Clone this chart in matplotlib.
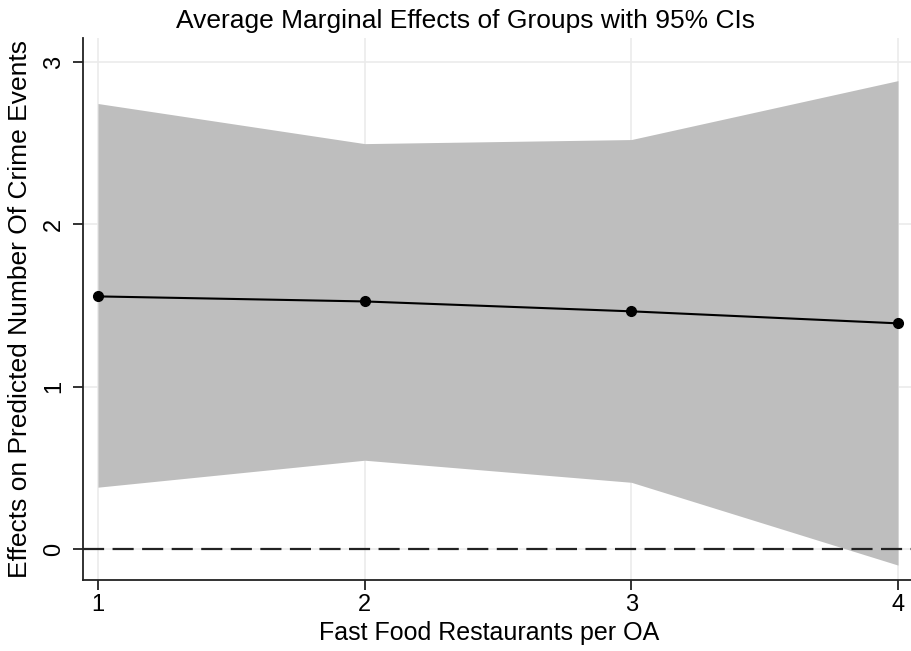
import matplotlib.pyplot as plt

groups = [1, 2, 3, 4]
effects = [1.557, 1.526, 1.465, 1.391]
ci_low = [0.382, 0.548, 0.412, -0.098]
ci_high = [2.745, 2.498, 2.523, 2.886]
yticks = [0, 1, 2, 3]

plt.rcParams["font.family"] = ["Liberation Sans", "DejaVu Sans"]

fig = plt.figure(figsize=(9.12, 6.51), dpi=100)
ax = fig.add_axes([0.091, 0.109, 0.909, 0.8325])

ax.fill_between(groups, ci_low, ci_high, color="#bebebe", linewidth=0, zorder=2)
ax.plot(groups, effects, color="black", linewidth=1.5, marker="o", markersize=7, zorder=4)
ax.axhline(0, color="#222222", linewidth=1.6, dashes=(9.5, 3.8), zorder=3)

ax.set_xlim(0.944, 4.0525)
ax.set_ylim(-0.19, 3.148)
ax.set_xticks(groups)
ax.set_yticks(yticks)
ax.set_xticklabels([str(g) for g in groups], fontsize=17)
ax.set_yticklabels([str(t) for t in yticks], fontsize=17, rotation=90, va="center")
ax.grid(True, color="#ebebeb", linewidth=1.2, zorder=0)
ax.set_axisbelow(True)

for side in ["top", "right"]:
    ax.spines[side].set_visible(False)
for side in ["left", "bottom"]:
    ax.spines[side].set_linewidth(1.3)
    ax.spines[side].set_color("#222222")
ax.tick_params(axis="both", direction="out", length=7, width=1.3, color="#222222")
ax.tick_params(axis="x", pad=3)
ax.tick_params(axis="y", pad=6)

ax.set_xlabel("Fast Food Restaurants per OA", fontsize=18)
ax.xaxis.set_label_coords(0.49, -0.075)
ax.set_ylabel("Effects on Predicted Number Of Crime Events", fontsize=19, labelpad=8)
fig.suptitle("Average Marginal Effects of Groups with 95% CIs", fontsize=19,
             x=0.51, y=0.986, va="top")

fig.savefig("out.png", dpi=100, facecolor="white")
